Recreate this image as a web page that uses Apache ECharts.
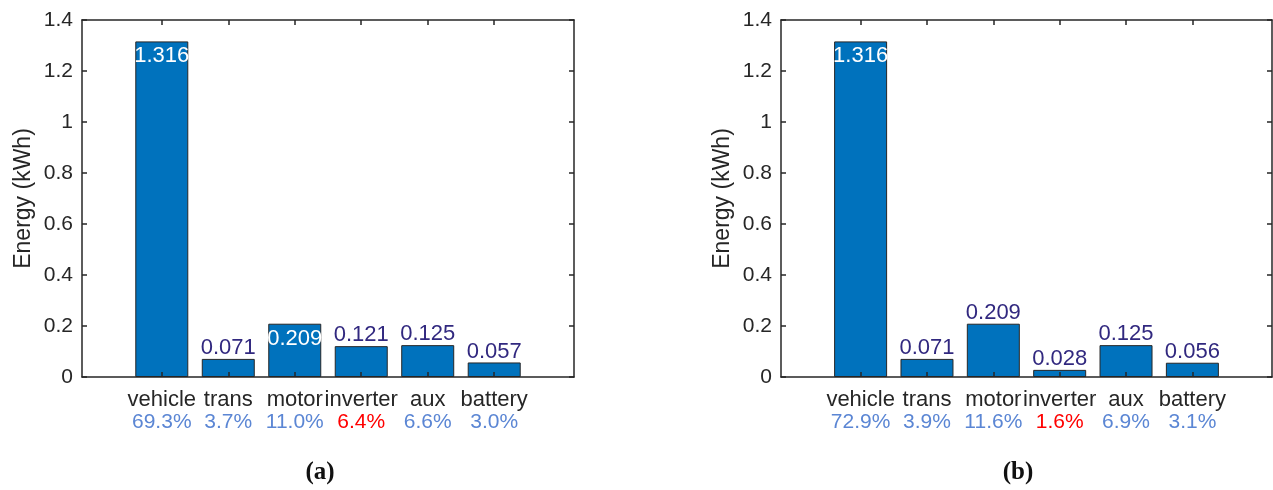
<!DOCTYPE html>
<html>
<head>
<meta charset="utf-8">
<script src="https://cdn.jsdelivr.net/npm/echarts@6/dist/echarts.min.js"></script>
<style>
html,body{margin:0;padding:0;background:#fff;}
#chart{width:1273px;height:490px;}
</style>
</head>
<body>
<div id="chart"></div>
<script>
// ---- data ----
const categories = ['vehicle', 'trans', 'motor', 'inverter', 'aux', 'battery'];
const energyA = [1.316, 0.071, 0.209, 0.121, 0.125, 0.057];
const shareA = ['69.3%', '3.7%', '11.0%', '6.4%', '6.6%', '3.0%'];
const energyB = [1.316, 0.071, 0.209, 0.028, 0.125, 0.056];
const shareB = ['72.9%', '3.9%', '11.6%', '1.6%', '6.9%', '3.1%'];
const insideLabelsA = ['vehicle', 'motor'];
const insideLabelsB = ['vehicle'];
const highlightCategory = 'inverter';
const panelLetters = ['a', 'b'];
const yAxisName = 'Energy (kWh)';
const yMin = 0, yMax = 1.4, yStep = 0.2;

// ---- styling ----
const AX = '#262626';
const FONT = '"Liberation Sans", Arial, Helvetica, sans-serif';
const positions = categories.map((c, i) => i + 1);

function bottomAxis(gridIndex, shares) {
  return {
    type: 'value', gridIndex: gridIndex, position: 'bottom',
    min: -0.2, max: 7.2, z: 5,
    axisLine: { show: true, onZero: false, lineStyle: { color: AX, width: 1.5 } },
    axisTick: { show: true, inside: true, length: 5, customValues: positions, lineStyle: { color: AX, width: 1.5 } },
    splitLine: { show: false },
    axisLabel: {
      customValues: positions, margin: 11, fontFamily: FONT,
      formatter: function (v) {
        const i = Math.round(v) - 1;
        if (i < 0 || i >= categories.length) return '';
        const key = categories[i] === highlightCategory ? 'r' : 'p';
        return '{c|' + categories[i] + '}\n{' + key + '|' + shares[i] + '}';
      },
      rich: {
        c: { color: AX, fontSize: 22, lineHeight: 23, fontFamily: FONT },
        p: { color: '#5b86d4', fontSize: 21, lineHeight: 23, fontFamily: FONT },
        r: { color: '#ff0000', fontSize: 21, lineHeight: 23, fontFamily: FONT }
      }
    }
  };
}
function topAxis(gridIndex) {
  return {
    type: 'value', gridIndex: gridIndex, position: 'top',
    min: -0.2, max: 7.2, z: 5,
    axisLine: { show: true, onZero: false, lineStyle: { color: AX, width: 1.5 } },
    axisTick: { show: true, inside: true, length: 5, customValues: positions, lineStyle: { color: AX, width: 1.5 } },
    splitLine: { show: false },
    axisLabel: { show: false }
  };
}
function leftAxis(gridIndex) {
  return {
    type: 'value', gridIndex: gridIndex, position: 'left',
    min: yMin, max: yMax, interval: yStep, z: 5,
    name: yAxisName, nameLocation: 'middle', nameGap: 47, nameRotate: 90,
    nameTextStyle: { color: AX, fontSize: 23, fontFamily: FONT },
    axisLine: { show: true, onZero: false, lineStyle: { color: AX, width: 1.5 } },
    axisTick: { show: true, inside: true, length: 5, lineStyle: { color: AX, width: 1.5 } },
    splitLine: { show: false },
    axisLabel: { color: AX, fontSize: 21, margin: 9, fontFamily: FONT,
      formatter: v => String(Math.round(v * 10) / 10) }
  };
}
function rightAxis(gridIndex) {
  return {
    type: 'value', gridIndex: gridIndex, position: 'right',
    min: yMin, max: yMax, interval: yStep, z: 5,
    axisLine: { show: true, onZero: false, lineStyle: { color: AX, width: 1.5 } },
    axisTick: { show: true, inside: true, length: 5, lineStyle: { color: AX, width: 1.5 } },
    splitLine: { show: false },
    axisLabel: { show: false }
  };
}
function barSeries(idx, values, insideList) {
  return {
    type: 'bar', xAxisIndex: idx * 2, yAxisIndex: idx * 2,
    barWidth: 53, z: 2,
    itemStyle: { color: '#0072bd', borderColor: '#262626', borderWidth: 1 },
    label: {
      show: true, position: 'top', distance: 1,
      color: '#31287f', fontSize: 22, fontFamily: FONT, lineHeight: 20,
      formatter: p => p.value[1].toFixed(3)
    },
    data: values.map((v, i) => {
      const item = { value: [positions[i], v] };
      if (insideList.indexOf(categories[i]) >= 0) {
        item.label = { position: 'insideTop', distance: 5, color: '#ffffff' };
      }
      return item;
    })
  };
}

const chart = echarts.init(document.getElementById('chart'), null, { renderer: 'canvas' });
chart.setOption({
  backgroundColor: '#ffffff',
  animation: false,
  title: panelLetters.map((l, i) => ({
    text: '{p|(}{b|' + l + '}{p|)}',
    left: i === 0 ? 315 : 1013, top: 455, textAlign: 'center',
    textStyle: {
      rich: {
        p: { fontFamily: '"Liberation Serif", "DejaVu Serif", serif', fontSize: 25, color: '#111' },
        b: { fontFamily: '"Liberation Serif", "DejaVu Serif", serif', fontSize: 25, fontWeight: 'bold', color: '#111' }
      }
    }
  })),
  grid: [
    { left: 82, right: 699, top: 20, bottom: 113, containLabel: false },
    { left: 781, right: 1, top: 20, bottom: 113, containLabel: false }
  ],
  xAxis: [bottomAxis(0, shareA), topAxis(0), bottomAxis(1, shareB), topAxis(1)],
  yAxis: [leftAxis(0), rightAxis(0), leftAxis(1), rightAxis(1)],
  series: [barSeries(0, energyA, insideLabelsA), barSeries(1, energyB, insideLabelsB)]
});
</script>
</body>
</html>
